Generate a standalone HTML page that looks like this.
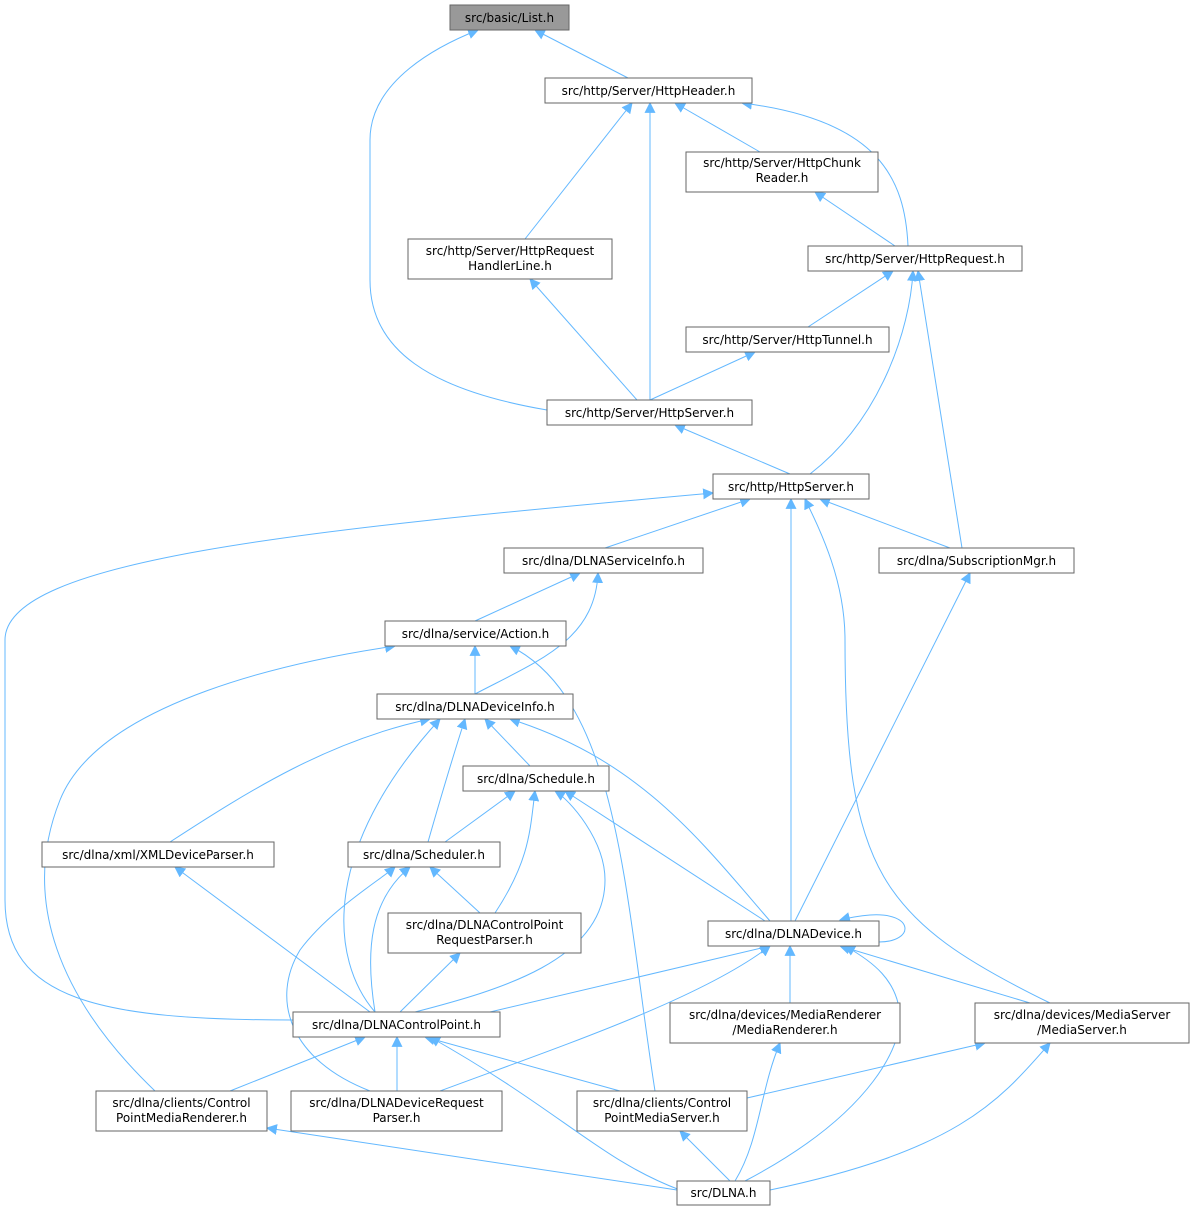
<!DOCTYPE html>
<html><head><meta charset="utf-8"><style>
html,body{margin:0;padding:0;background:#fff;}
svg text{font-family:"DejaVu Sans","Liberation Sans",sans-serif;font-size:12px;fill:#000;}
</style></head><body>
<svg width="1195" height="1209" viewBox="0 0 1195 1209" xmlns="http://www.w3.org/2000/svg">
<defs>
<marker id="a" viewBox="0 0 10 10" refX="9" refY="5" markerWidth="11" markerHeight="11" markerUnits="userSpaceOnUse" orient="auto">
<path d="M0,0 L10,5 L0,10 z" fill="#63b8ff"/>
</marker>
</defs>
<g fill="none" stroke="#63b8ff" stroke-width="1" marker-end="url(#a)">
<path d="M628,78 L535,30"/>
<path d="M547,410 C430,390 370,350 370,280 L370,140 C370,80 440,45 478,30"/>
<path d="M760,152 L675,103"/>
<path d="M908,246 C905,180 880,120 742,103"/>
<path d="M525,239 L632,103"/>
<path d="M650,400 L650,103"/>
<path d="M895,246 L815,192"/>
<path d="M637,400 L530,279"/>
<path d="M808,327 L893,271"/>
<path d="M650,400 L755,352"/>
<path d="M790,474 L675,425"/>
<path d="M810,474 C880,420 910,330 913,271"/>
<path d="M962,548 L918,271"/>
<path d="M605,548 L750,499"/>
<path d="M950,548 L820,499"/>
<path d="M791,921 L791,499"/>
<path d="M1050,1003 C880,920 845,870 845,640 C845,580 820,530 805,499"/>
<path d="M293,1020 C100,1020 5,1000 5,900 L5,640 C5,560 300,530 713,493"/>
<path d="M475,621 L580,573"/>
<path d="M475,694 C540,660 595,640 598,573"/>
<path d="M475,694 L475,646"/>
<path d="M155,1091 C60,1000 20,900 60,800 C100,700 300,660 395,646"/>
<path d="M655,1091 C625,900 620,700 510,646"/>
<path d="M530,766 L485,719"/>
<path d="M170,842 C250,790 330,740 430,719"/>
<path d="M428,842 C440,800 455,750 465,719"/>
<path d="M375,1012 C330,960 320,850 440,719"/>
<path d="M770,921 C700,840 640,760 510,719"/>
<path d="M445,842 L515,791"/>
<path d="M495,913 C530,860 530,830 535,791"/>
<path d="M415,1012 C500,990 605,960 605,880 C605,840 570,800 555,791"/>
<path d="M765,921 L565,791"/>
<path d="M480,913 L430,867"/>
<path d="M375,1012 C365,950 370,900 410,867"/>
<path d="M370,1091 C290,1060 270,1000 300,950 C330,910 380,880 395,867"/>
<path d="M400,1012 L460,953"/>
<path d="M370,1012 L175,867"/>
<path d="M795,921 L970,573"/>
<path d="M879,942 C915,942 915,912 870,915 C858,916 848,918 840,920"/>
<path d="M490,1012 L770,946"/>
<path d="M440,1091 C550,1050 700,1000 770,946"/>
<path d="M790,1003 L790,946"/>
<path d="M1030,1003 L840,946"/>
<path d="M745,1181 C880,1110 900,1040 900,1020 C900,980 870,960 845,946"/>
<path d="M230,1091 L365,1037"/>
<path d="M397,1091 L397,1037"/>
<path d="M620,1091 L425,1037"/>
<path d="M680,1190 C600,1160 560,1110 430,1037"/>
<path d="M735,1181 C760,1140 760,1090 780,1043"/>
<path d="M747,1098 L985,1043"/>
<path d="M770,1190 C960,1150 1000,1100 1050,1043"/>
<path d="M730,1181 L680,1131"/>
<path d="M677,1190 L267,1128"/>
</g>
<g stroke="#666" stroke-width="1" fill="#fff">
<rect x="450" y="5" width="119" height="25" fill="#999"/>
<rect x="545" y="78" width="207" height="25"/>
<rect x="686" y="152" width="192" height="40"/>
<rect x="408" y="239" width="204" height="40"/>
<rect x="808" y="246" width="214" height="25"/>
<rect x="686" y="327" width="203" height="25"/>
<rect x="547" y="400" width="205" height="25"/>
<rect x="713" y="474" width="156" height="25"/>
<rect x="504" y="548" width="199" height="25"/>
<rect x="879" y="548" width="195" height="25"/>
<rect x="385" y="621" width="181" height="25"/>
<rect x="377" y="694" width="196" height="25"/>
<rect x="463" y="766" width="146" height="25"/>
<rect x="42" y="842" width="232" height="25"/>
<rect x="348" y="842" width="152" height="25"/>
<rect x="388" y="913" width="193" height="40"/>
<rect x="708" y="921" width="171" height="25"/>
<rect x="293" y="1012" width="207" height="25"/>
<rect x="670" y="1003" width="230" height="40"/>
<rect x="975" y="1003" width="214" height="40"/>
<rect x="96" y="1091" width="171" height="40"/>
<rect x="291" y="1091" width="211" height="40"/>
<rect x="577" y="1091" width="170" height="40"/>
<rect x="677" y="1181" width="93" height="24"/>
</g>
<g text-anchor="middle">
<text x="509.5" y="22">src/basic/List.h</text>
<text x="648.5" y="95">src/http/Server/HttpHeader.h</text>
<text x="782" y="167">src/http/Server/HttpChunk</text>
<text x="782" y="182">Reader.h</text>
<text x="510" y="255">src/http/Server/HttpRequest</text>
<text x="510" y="270">HandlerLine.h</text>
<text x="915" y="263">src/http/Server/HttpRequest.h</text>
<text x="787.5" y="344">src/http/Server/HttpTunnel.h</text>
<text x="649.5" y="417">src/http/Server/HttpServer.h</text>
<text x="791" y="491">src/http/HttpServer.h</text>
<text x="603.5" y="565">src/dlna/DLNAServiceInfo.h</text>
<text x="976.5" y="565">src/dlna/SubscriptionMgr.h</text>
<text x="475.5" y="638">src/dlna/service/Action.h</text>
<text x="475" y="711">src/dlna/DLNADeviceInfo.h</text>
<text x="536" y="783">src/dlna/Schedule.h</text>
<text x="158" y="859">src/dlna/xml/XMLDeviceParser.h</text>
<text x="424" y="859">src/dlna/Scheduler.h</text>
<text x="484.5" y="929">src/dlna/DLNAControlPoint</text>
<text x="484.5" y="944">RequestParser.h</text>
<text x="793.5" y="938">src/dlna/DLNADevice.h</text>
<text x="396.5" y="1029">src/dlna/DLNAControlPoint.h</text>
<text x="785" y="1019">src/dlna/devices/MediaRenderer</text>
<text x="785" y="1034">/MediaRenderer.h</text>
<text x="1082" y="1019">src/dlna/devices/MediaServer</text>
<text x="1082" y="1034">/MediaServer.h</text>
<text x="181.5" y="1107">src/dlna/clients/Control</text>
<text x="181.5" y="1122">PointMediaRenderer.h</text>
<text x="396.5" y="1107">src/dlna/DLNADeviceRequest</text>
<text x="396.5" y="1122">Parser.h</text>
<text x="662" y="1107">src/dlna/clients/Control</text>
<text x="662" y="1122">PointMediaServer.h</text>
<text x="723.5" y="1197">src/DLNA.h</text>
</g>
</svg>
</body></html>
